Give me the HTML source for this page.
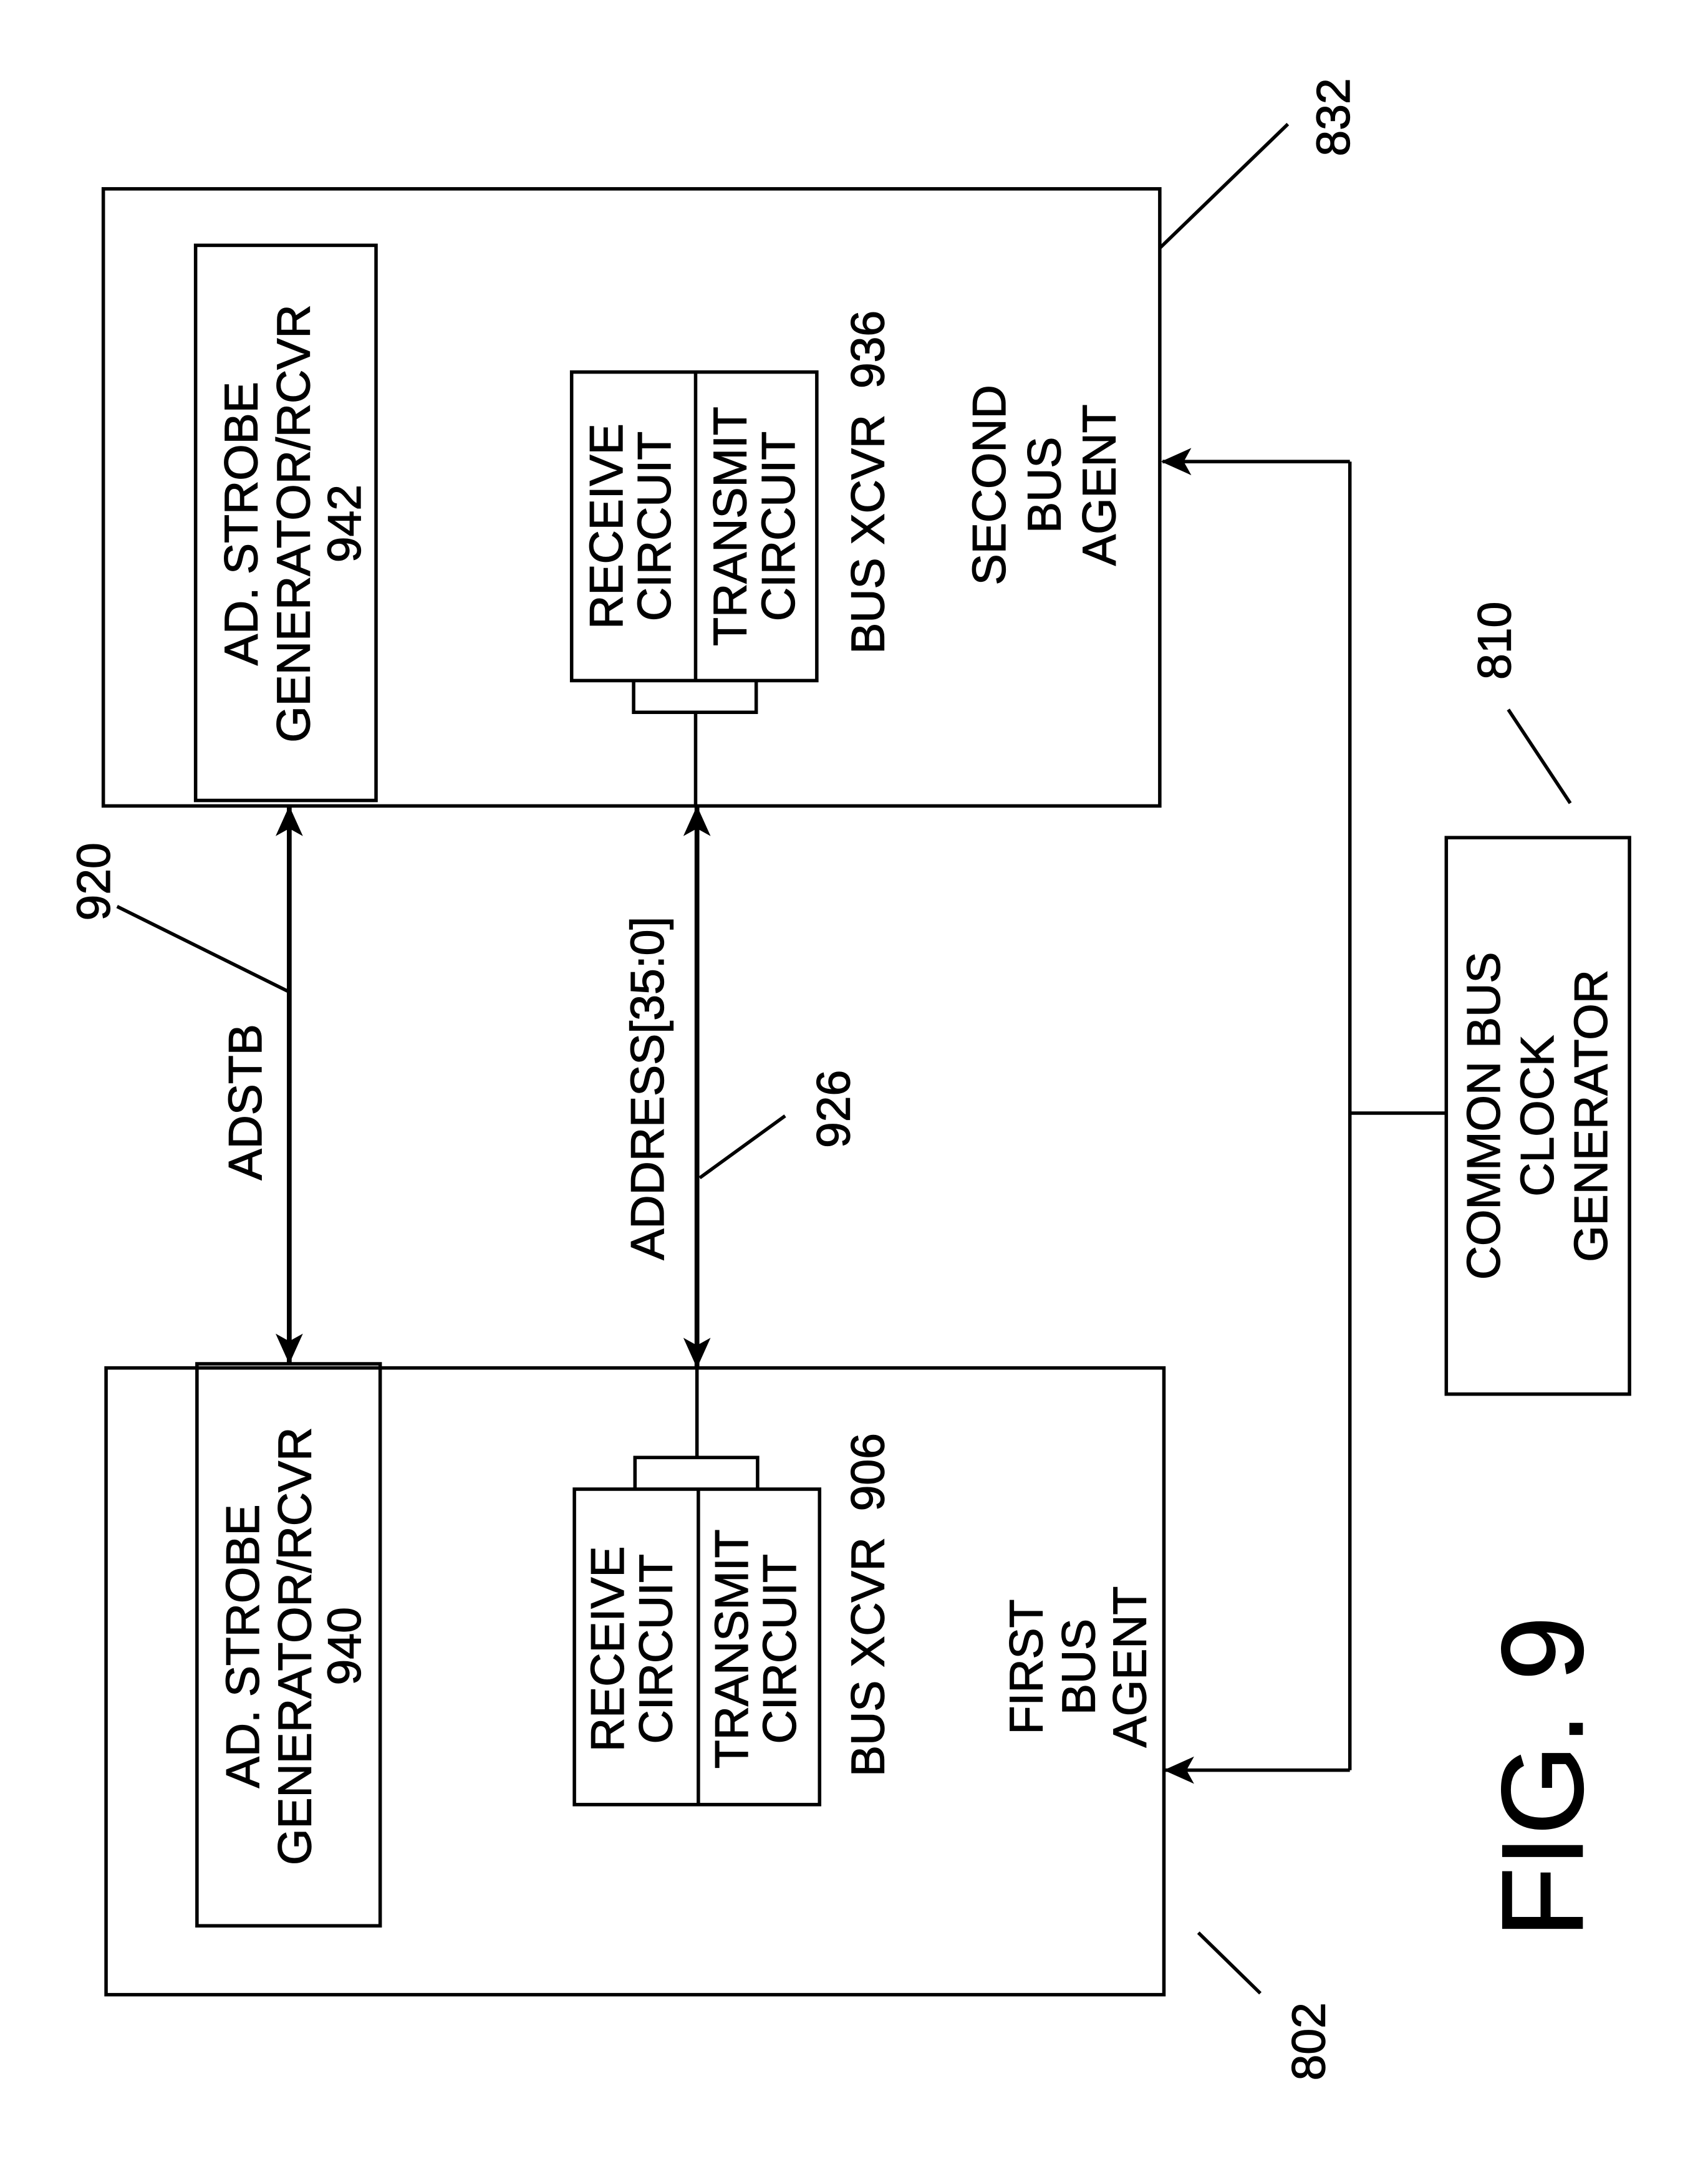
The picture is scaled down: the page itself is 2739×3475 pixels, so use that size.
<!DOCTYPE html>
<html><head><meta charset="utf-8"><style>html,body{margin:0;padding:0;background:#fff}svg{display:block}</style></head>
<body>
<svg width="2739" height="3475" viewBox="0 0 1240 1573" xmlns="http://www.w3.org/2000/svg" font-family="Liberation Sans, sans-serif" fill="none" stroke="#000" stroke-width="2.5">
<defs>
<marker id="a" viewBox="0 0 10 10" refX="9.5" refY="5" markerWidth="22" markerHeight="22" markerUnits="userSpaceOnUse" orient="auto-start-reverse"><path d="M0,0.5 L10,5 L0,9.5 L2.5,5 z" fill="#000" stroke="none"/></marker>
</defs>
<rect x="75" y="137" width="767" height="448"/>
<rect x="142" y="178" width="131" height="403"/>
<rect x="415" y="270" width="178" height="224"/>
<line x1="505" y1="270" x2="505" y2="494"/>
<polyline points="460,494 460,517 549,517 549,494"/>
<line x1="505" y1="517" x2="505" y2="585"/>
<rect x="77" y="993" width="768" height="455"/>
<rect x="143" y="990" width="133" height="408"/>
<rect x="417" y="1081" width="178" height="229"/>
<line x1="507" y1="1081" x2="507" y2="1310"/>
<polyline points="461,1081 461,1058 550,1058 550,1081"/>
<line x1="506" y1="993" x2="506" y2="1058"/>
<line x1="210" y1="586" x2="210" y2="989" stroke-width="3.5" marker-start="url(#a)" marker-end="url(#a)"/>
<line x1="506" y1="586" x2="506" y2="992" stroke-width="3.5" marker-start="url(#a)" marker-end="url(#a)"/>
<rect x="1050" y="608" width="133" height="404"/>
<line x1="1050" y1="808" x2="980" y2="808"/>
<line x1="980" y1="335" x2="980" y2="1285"/>
<line x1="980" y1="335" x2="844" y2="335" marker-end="url(#a)"/>
<line x1="980" y1="1285" x2="846" y2="1285" marker-end="url(#a)"/>
<line x1="842" y1="180" x2="935" y2="90"/>
<line x1="1095" y1="515" x2="1140" y2="583"/>
<line x1="870" y1="1403" x2="915" y2="1447"/>
<line x1="85" y1="658" x2="210" y2="720"/>
<line x1="508" y1="855" x2="570" y2="810"/>
<g fill="#000" stroke="#000" stroke-width="0.6" font-size="34" text-anchor="middle" dominant-baseline="central">
<text transform="translate(968,85) rotate(-90)">832</text>
<text transform="translate(1085,465) rotate(-90)">810</text>
<text transform="translate(950,1482) rotate(-90)">802</text>
<text transform="translate(68,640) rotate(-90)">920</text>
<text transform="translate(605,805) rotate(-90)">926</text>
<text transform="translate(175,380) rotate(-90)">AD. STROBE</text>
<text transform="translate(213,380) rotate(-90)">GENERATOR/RCVR</text>
<text transform="translate(250,380) rotate(-90)">942</text>
<text transform="translate(440,382) rotate(-90)">RECEIVE</text>
<text transform="translate(475,382) rotate(-90)">CIRCUIT</text>
<text transform="translate(530,382) rotate(-90)">TRANSMIT</text>
<text transform="translate(565,382) rotate(-90)">CIRCUIT</text>
<text transform="translate(630,350) rotate(-90)" xml:space="preserve">BUS XCVR  936</text>
<text transform="translate(718,352) rotate(-90)">SECOND</text>
<text transform="translate(758,352) rotate(-90)">BUS</text>
<text transform="translate(798,352) rotate(-90)">AGENT</text>
<text transform="translate(176,1195) rotate(-90)">AD. STROBE</text>
<text transform="translate(214,1195) rotate(-90)">GENERATOR/RCVR</text>
<text transform="translate(250,1195) rotate(-90)">940</text>
<text transform="translate(441,1197) rotate(-90)">RECEIVE</text>
<text transform="translate(476,1197) rotate(-90)">CIRCUIT</text>
<text transform="translate(531,1197) rotate(-90)">TRANSMIT</text>
<text transform="translate(566,1197) rotate(-90)">CIRCUIT</text>
<text transform="translate(630,1165) rotate(-90)" xml:space="preserve">BUS XCVR  906</text>
<text transform="translate(745,1210) rotate(-90)">FIRST</text>
<text transform="translate(783,1210) rotate(-90)">BUS</text>
<text transform="translate(820,1210) rotate(-90)">AGENT</text>
<text transform="translate(178,800) rotate(-90)">ADSTB</text>
<text transform="translate(470,790) rotate(-90)">ADDRESS[35:0]</text>
<text transform="translate(1077,810) rotate(-90)">COMMON BUS</text>
<text transform="translate(1116,810) rotate(-90)">CLOCK</text>
<text transform="translate(1155,810) rotate(-90)">GENERATOR</text>
<text transform="translate(1120,1290) rotate(-90)" font-size="84" stroke-width="0.8">FIG. 9</text>
</g>
</svg>
</body></html>
